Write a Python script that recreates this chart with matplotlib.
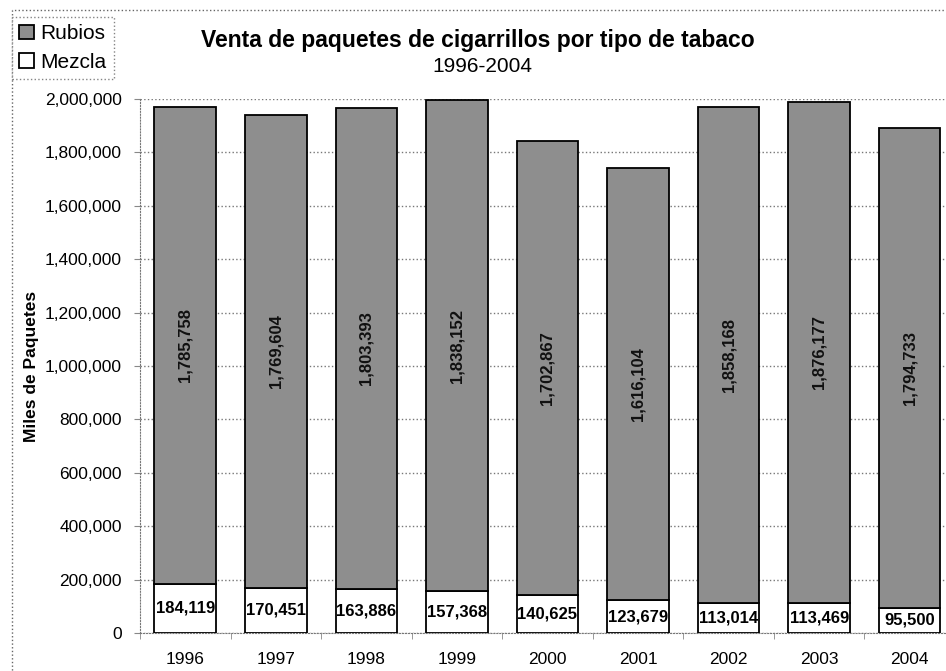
import matplotlib.pyplot as plt
import numpy as np
from matplotlib.patches import Rectangle

# data
years = ['1996', '1997', '1998', '1999', '2000', '2001', '2002', '2003', '2004']
mezcla = [184119, 170451, 163886, 157368, 140625, 123679, 113014, 113469, 95500]
rubios = [1785758, 1769604, 1803393, 1838152, 1702867, 1616104, 1858168, 1876177, 1794733]

plt.rcParams['font.family'] = ['Liberation Sans', 'DejaVu Sans']

fig = plt.figure(figsize=(9.46, 6.71), dpi=100)
ax = fig.add_axes([0.148, 0.0566, 0.8615, 0.796])

x = np.arange(len(years))
w = 0.68
b1 = ax.bar(x, mezcla, w, color='white', edgecolor='black', linewidth=1.3, label='Mezcla', zorder=3)
b2 = ax.bar(x, rubios, w, bottom=mezcla, color='#8e8e8e', edgecolor='black', linewidth=1.3,
            label='Rubios', zorder=3)

# value labels
for i in range(len(years)):
    ax.text(x[i], mezcla[i] / 2, f'{mezcla[i]:,}', ha='center', va='center',
            fontsize=12, fontweight='bold', zorder=4)
    ax.text(x[i], mezcla[i] + rubios[i] / 2, f'{rubios[i]:,}', ha='center', va='center',
            rotation=90, fontsize=12, fontweight='bold', color='#111111', zorder=4)

ax.set_xlim(-0.5, 8.5)
ax.set_ylim(0, 2000000)
ax.set_yticks(np.arange(0, 2000001, 200000))
ax.yaxis.set_major_formatter(plt.FuncFormatter(lambda v, p: f'{int(v):,}'))
ax.set_xticks(x)
ax.set_xticklabels(years)
ax.set_xticks(np.arange(-0.5, 9, 1), minor=True)
ax.tick_params(axis='x', which='major', length=0, pad=14, labelsize=12.5)
ax.tick_params(axis='x', which='minor', length=4, color='#888888')
ax.tick_params(axis='y', length=4, color='#888888', pad=9, labelsize=12.5)
ax.grid(axis='y', linestyle=':', color='#777777', linewidth=1, zorder=0)
for s in ['top', 'right']:
    ax.spines[s].set_visible(False)
for s in ['left', 'bottom']:
    ax.spines[s].set_linestyle(':')
    ax.spines[s].set_color('#777777')

ax.set_ylabel('Miles de Paquetes', fontsize=12.5, fontweight='bold', labelpad=4)

fig.text(0.505, 1 - 40 / 671, 'Venta de paquetes de cigarrillos por tipo de tabaco',
         ha='center', va='center', fontsize=16.5, fontweight='bold')
fig.text(0.51, 1 - 67 / 671, '1996-2004', ha='center', va='center', fontsize=15)

# outer chart border
fig.patches.append(Rectangle((12 / 946, -0.01), 1.0, 1 - 10 / 671 + 0.01, transform=fig.transFigure,
                             fill=False, linestyle=':', edgecolor='#666666', linewidth=1))

leg = fig.legend([b2, b1], ['Rubios', 'Mezcla'], loc='upper left',
                 bbox_to_anchor=(12 / 946, 1 - 17 / 671), fontsize=15, frameon=True,
                 fancybox=False, handlelength=0.7, handleheight=0.7, handletextpad=0.3,
                 borderpad=0.35, labelspacing=0.45, borderaxespad=0)
leg.get_frame().set_linestyle(':')
leg.get_frame().set_edgecolor('#666666')

fig.savefig('out.png', dpi=100)
